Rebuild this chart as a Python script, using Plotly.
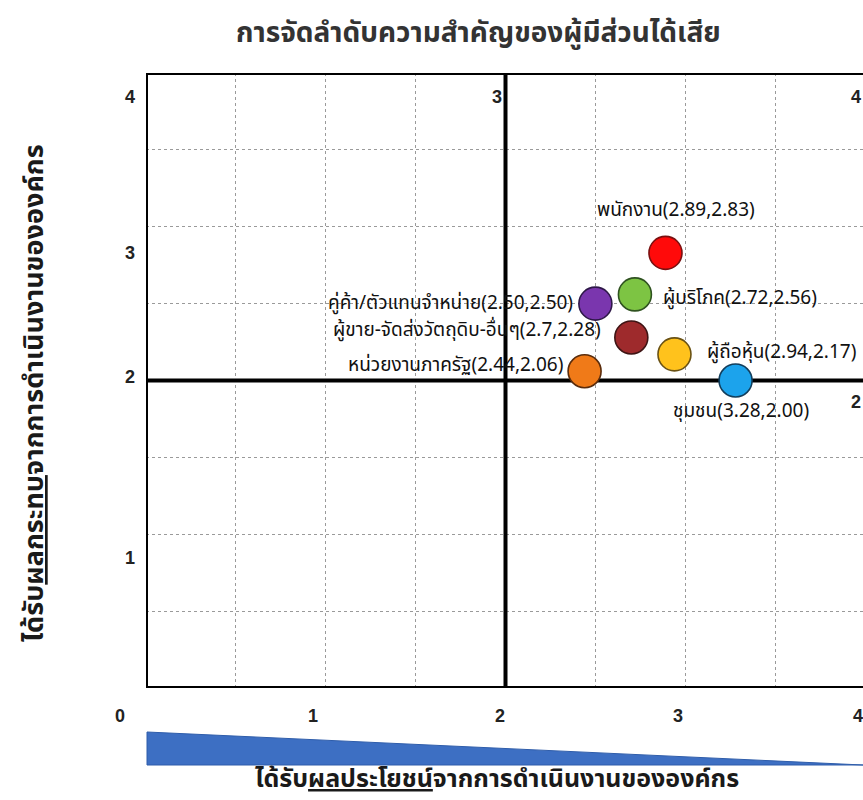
import plotly.graph_objects as go

# Stakeholder priority matrix
stakeholders = [
    "พนักงาน",
    "ผู้บริโภค",
    "ผู้ขาย-จัดส่งวัตถุดิบ-อื่นๆ",
    "หน่วยงานภาครัฐ",
    "คู่ค้า/ตัวแทนจำหน่าย",
    "ผู้ถือหุ้น",
    "ชุมชน",
]
benefit = [2.89, 2.72, 2.7, 2.44, 2.50, 2.94, 3.28]   # x: benefit from operations
impact = [2.83, 2.56, 2.28, 2.06, 2.50, 2.17, 2.00]   # y: impact from operations
benefit_decimals = [2, 2, 1, 2, 2, 2, 2]
impact_decimals = [2, 2, 2, 2, 2, 2, 2]

x_tick_labels = ["0", "1", "2", "3", "4"]
y_tick_labels = ["4", "3", "2", "1"]
quadrant_labels = ["3", "4", "2"]

title_text = "การจัดลำดับความสำคัญของผู้มีส่วนได้เสีย"
x_title = "ได้รับ<u>ผลประโยชน์</u>จากการดำเนินงานขององค์กร"
y_title = "ได้รับ<u>ผลกระทบ</u>จากการดำเนินงานขององค์กร"

fill_colors = ["#FF0A0A", "#7DC443", "#9E2A2C", "#F07A18", "#7A36AE", "#FFC21C", "#1CA3EC"]
edge_colors = ["#7A1010", "#2F5220", "#3E1414", "#5A2C0C", "#2E1848", "#6A5214", "#123E5C"]

# label placement relative to each marker: (xshift px, yshift px, xanchor)
label_offsets = [
    (11, 42, "center"),
    (26, -4, "left"),
    (-28, 7, "right"),
    (-20, 6, "right"),
    (-20, 0, "right"),
    (31, 2, "left"),
    (5, -31, "center"),
]

W, H = 863, 800
L, R, T, B = 146, 0, 73, 112
plot_w = W - L - R
plot_h = H - T - B
x_unit = 179.75
x_max = plot_w / x_unit
y_max = 4.0

THAI = "Tahoma, 'Noto Sans Thai', 'Noto Sans Thai UI', Loma, Garuda, 'Liberation Sans', sans-serif"
NUM = "'Liberation Sans', Arial, sans-serif"


def paper(px, py):
    """Convert page pixel position to paper coordinates."""
    return (px - L) / plot_w, (H - B - py) / plot_h


fig = go.Figure()

# markers
fig.add_trace(go.Scatter(
    x=benefit, y=impact, mode="markers",
    marker=dict(size=33, color=fill_colors,
                line=dict(color=edge_colors, width=1.6)),
    hoverinfo="skip", showlegend=False, cliponaxis=False,
))

annotations = []
for name, xv, yv, xd, yd, (dx, dy, anc) in zip(
        stakeholders, benefit, impact, benefit_decimals, impact_decimals, label_offsets):
    txt = (f"{name}<span style='font-family:{NUM};font-size:14px'>"
           f"({xv:.{xd}f},{yv:.{yd}f})</span>")
    annotations.append(dict(
        x=xv, y=yv, xref="x", yref="y", text=txt, showarrow=False,
        xanchor=anc, yanchor="middle", xshift=dx, yshift=dy,
        font=dict(family=THAI, size=19, color="#111111"),
    ))

tick_font = dict(family=NUM, size=18, color="#222222")

# axis tick labels
x_label_px = [120, 313, 500, 678, 858]
for lab, xp in zip(x_tick_labels, x_label_px):
    px_, py_ = paper(xp, 716)
    annotations.append(dict(x=px_, y=py_, xref="paper", yref="paper", text=f"<b>{lab}</b>",
                            showarrow=False, xanchor="center", yanchor="middle",
                            font=tick_font))
y_label_py = [97, 253, 377, 558]
for lab, yp in zip(y_tick_labels, y_label_py):
    px_, py_ = paper(130, yp)
    annotations.append(dict(x=px_, y=py_, xref="paper", yref="paper", text=f"<b>{lab}</b>",
                            showarrow=False, xanchor="center", yanchor="middle",
                            font=tick_font))
quad_pos = [(497, 97), (856, 97), (856, 402)]
for lab, (xp, yp) in zip(quadrant_labels, quad_pos):
    px_, py_ = paper(xp, yp)
    annotations.append(dict(x=px_, y=py_, xref="paper", yref="paper", text=f"<b>{lab}</b>",
                            showarrow=False, xanchor="center", yanchor="middle",
                            font=tick_font))

# titles
tx, ty = paper(478, 33)
annotations.append(dict(x=tx, y=ty, xref="paper", yref="paper", text=f"<b>{title_text}</b>",
                        showarrow=False, xanchor="center", yanchor="middle",
                        font=dict(family=THAI, size=28, color="#333333")))
xt, yt = paper(497, 779)
annotations.append(dict(x=xt, y=yt, xref="paper", yref="paper", text=f"<b>{x_title}</b>",
                        showarrow=False, xanchor="center", yanchor="middle", borderpad=0,
                        font=dict(family=THAI, size=25, color="#1a1a1a")))
xt, yt = paper(35, 393)
annotations.append(dict(x=xt, y=yt, xref="paper", yref="paper", text=f"<b>{y_title}</b>",
                        showarrow=False, xanchor="center", yanchor="middle", textangle=-90,
                        font=dict(family=THAI, size=27, color="#1a1a1a")))

# frame, quadrant dividers and the benefit wedge
frame = dict(type="line", layer="between", line=dict(color="black", width=4))
shapes = [
    dict(frame, xref="x", yref="y", x0=0, x1=0, y0=-0.01, y1=y_max + 0.01),
    dict(frame, xref="x", yref="y", x0=0, x1=x_max, y0=y_max, y1=y_max),
    dict(frame, xref="x", yref="y", x0=0, x1=x_max, y0=0, y1=0),
    dict(frame, xref="x", yref="y", x0=2, x1=2, y0=0, y1=y_max),
    dict(frame, xref="x", yref="y", x0=0, x1=x_max, y0=2, y1=2),
]
w0 = paper(147, 732)
w1 = paper(147, 765)
w2 = paper(863, 765)
shapes.append(dict(type="path", xref="paper", yref="paper", layer="above",
                   path=f"M {w0[0]} {w0[1]} L {w1[0]} {w1[1]} L {w2[0]} {w2[1]} Z",
                   fillcolor="#3D6FC3", line=dict(color="#2F5DAA", width=1)))

grid = dict(showgrid=True, gridcolor="#9a9a9a", griddash="dot", gridwidth=1,
            zeroline=False, showticklabels=False, ticks="", showline=False, dtick=0.5)
fig.update_layout(
    width=W, height=H,
    margin=dict(l=L, r=R, t=T, b=B),
    paper_bgcolor="white", plot_bgcolor="white",
    xaxis=dict(range=[0, x_max], tick0=0, **grid),
    yaxis=dict(range=[0, y_max], tick0=0, **grid),
    annotations=annotations, shapes=shapes,
    showlegend=False,
)

fig.write_html("out.html")
